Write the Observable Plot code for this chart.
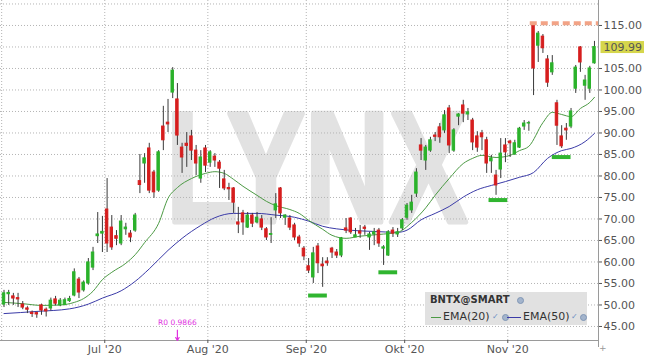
<!DOCTYPE html>
<html><head><meta charset="utf-8">
<script src="https://cdn.jsdelivr.net/npm/d3@7"></script>
<script src="https://cdn.jsdelivr.net/npm/@observablehq/plot@0.6"></script>
<style>
html,body{margin:0;padding:0;background:#fff;}
#wrap{position:relative;width:645px;height:358px;overflow:hidden;font-family:"DejaVu Sans",sans-serif;}
#legend{position:absolute;left:425px;top:292px;width:162px;height:33px;background:#e1e1e1;color:#333;}
#legend span{position:absolute;white-space:nowrap;}
.l1{left:5px;top:2px;font-size:10px;font-weight:bold;line-height:12px;}
.t{font-size:11px;line-height:13px;top:18px;}
.sw{height:1.5px;top:24.5px;width:10px;}
.ck{font-size:8px;color:#6b8fc4;top:20px;line-height:10px;}
.gear{width:5px;height:5px;border-radius:50%;background:#a3b4cc;border:0.5px solid #8096b5;}
#plus{position:absolute;left:599px;top:343px;font-size:9px;color:#999;}
</style></head>
<body><div id="wrap"><div id="chart"></div>
<div id="legend">
  <span class="l1">BNTX@SMART</span><span class="gear" style="left:92px;top:5px"></span>
  <span class="sw" style="left:6px;background:#4c9a44"></span>
  <span class="t" style="left:18px">EMA(20)</span>
  <span class="ck" style="left:67px">✓</span><span class="gear" style="left:77px;top:22px"></span>
  <span class="sw" style="left:82px;width:14px;background:#3b3ba8"></span>
  <span class="t" style="left:98px">EMA(50)</span>
  <span class="ck" style="left:146px">✓</span><span class="gear" style="left:155px;top:22px"></span>
</div>
<span id="plus">+</span>
</div>
<script>
// Daily candles, 1 Jun 2020 .. 27 Nov 2020 (trading days, index 0..126)
const open = [50.1,52.5,52.0,51.6,50.1,49.2,48.2,48.1,49.9,48.9,49.2,51.3,49.9,50.0,50.9,52.2,55.9,53.4,55.0,58.7,66.0,66.6,
72.2,68.0,66.0,64.3,67.6,66.6,67.3,78.8,82.9,86.4,80.8,76.6,91.5,92.4,99.4,97.8,86.6,87.5,89.2,85.9,79.4,86.4,
83.1,84.5,83.1,79.2,77.2,77.1,69.2,71.3,68.0,70.8,69.2,69.9,67.6,66.3,72.0,77.1,70.3,70.1,68.5,65.7,63.1,
59.0,56.4,63.6,59.4,60.1,63.1,62.2,61.5,67.8,70.1,65.7,67.1,68.0,65.7,66.4,67.3,63.1,61.5,67.3,66.4,67.8,
70.3,72.0,75.9,87.1,83.6,85.9,89.4,91.3,90.6,95.7,85.9,93.8,96.4,94.3,92.9,89.2,89.9,88.3,83.4,80.1,81.5,87.1,
88.0,85.0,86.6,91.5,92.2,115.0,110.3,112.4,107.1,104.1,96.9,89.2,91.0,91.5,100.3,109.9,101.0,100.3,106.2];
const high = [53.4,53.4,52.7,52.7,50.8,49.6,48.6,48.4,50.2,49.3,51.6,52.0,51.5,51.6,52.0,58.4,56.4,55.6,60.8,63.4,71.5,70.6,
79.4,70.8,67.3,70.8,69.0,67.3,71.3,85.0,85.2,87.6,81.3,85.9,96.2,97.8,105.2,101.5,87.6,90.1,90.6,87.1,85.9,87.1,
85.9,85.2,83.6,81.3,78.3,77.3,72.7,72.0,71.5,71.3,71.5,70.8,68.0,70.3,75.9,77.3,71.0,70.8,69.0,66.2,63.6,
60.8,63.4,64.3,61.0,61.0,63.4,62.9,65.7,70.1,70.3,67.8,68.5,68.5,66.9,67.8,67.8,63.8,67.3,68.0,67.8,70.1,
73.6,75.5,81.7,88.7,87.1,89.0,90.1,92.2,95.2,96.4,91.0,94.5,97.6,95.7,93.4,90.3,90.6,89.0,84.8,81.3,88.7,88.7,
88.3,88.3,91.3,92.9,92.7,115.2,113.6,112.9,108.0,108.0,97.6,91.7,92.2,95.7,105.7,110.1,103.4,105.5,111.3];
const low = [49.4,49.9,49.9,49.4,48.9,48.0,47.1,46.9,47.6,47.2,48.6,49.8,49.6,49.8,50.6,51.9,51.5,53.0,54.6,58.0,64.3,62.2,
62.2,62.7,63.8,63.8,66.2,64.5,66.9,75.9,78.3,75.9,74.8,76.2,85.9,90.1,98.0,87.1,80.6,82.0,83.6,80.1,78.3,80.8,
82.0,82.0,77.1,76.6,74.3,71.3,66.6,66.2,67.8,68.0,68.9,67.3,65.0,64.3,70.1,70.1,68.5,67.3,65.0,63.4,60.3,
57.3,55.0,57.3,54.1,59.0,60.8,60.8,61.0,66.6,66.4,65.7,65.5,66.2,62.7,63.8,63.4,59.2,61.3,65.7,65.7,67.3,
69.7,71.3,75.0,83.6,81.3,85.5,88.0,87.6,89.9,85.2,85.5,91.7,92.4,92.9,85.9,85.5,85.9,80.6,80.6,75.5,79.4,83.1,
84.3,84.8,86.4,90.6,90.4,98.7,106.4,108.5,100.6,103.4,87.1,86.4,88.3,91.0,99.2,104.1,97.6,99.2,106.0];
const close = [52.7,52.8,51.5,51.3,49.4,48.9,47.9,47.8,48.7,48.5,51.0,50.3,51.0,51.1,51.4,57.6,52.9,55.2,59.9,62.2,66.4,67.0,
64.3,63.4,65.4,69.4,68.0,65.7,70.8,77.9,84.1,76.6,76.2,85.5,88.3,92.0,104.5,89.4,84.3,87.0,85.9,82.9,84.3,82.4,
85.5,83.6,81.7,77.1,76.9,73.8,68.7,69.2,70.8,68.9,70.3,68.0,65.7,66.5,73.4,71.3,70.8,68.0,65.7,64.3,61.3,
58.0,62.0,59.7,59.0,59.7,62.2,61.5,65.5,67.3,66.9,66.2,66.6,67.7,66.4,66.9,64.3,63.4,66.9,66.6,66.9,69.7,
73.1,73.8,80.8,85.9,86.6,88.3,89.1,89.0,94.1,87.1,90.6,94.3,94.5,94.8,87.8,86.6,89.0,82.9,84.1,77.8,85.2,85.5,
87.6,87.6,91.0,92.2,92.3,105.0,113.1,109.7,101.7,106.2,91.7,86.9,90.6,95.0,105.2,106.4,102.2,105.0,109.99];

// Indicator readings (index of trading day, value)
const ema20Idx = [0,4,8,12,15,17,19,21,23,26,28,30,33,35,37,40,43,45,47,49,51,54,56,58,61,63,65,68,70,73,76,80,84,87,90,92,95,98,100,102,105,108,110,112,115,117,119,121,123,125,126];
const ema20 = [50.6,50.3,49.9,50.0,50.6,51.5,53.2,55.9,57.6,59.7,61.7,64.5,69.0,74.8,77.3,79.4,80.6,81.0,80.6,79.2,77.6,75.5,74.1,73.1,72.2,71.3,69.7,67.6,66.2,65.5,66.0,66.4,66.9,69.2,72.6,75.5,79.4,82.9,84.1,84.8,84.3,84.8,85.9,86.9,92.4,94.8,94.3,93.8,95.7,97.1,98.3];
const ema50Idx = [0,7,14,18,21,25,28,31,35,38,42,45,49,54,58,62,65,68,71,75,79,84,86,89,92,95,98,101,104,107,110,113,116,119,121,124,126];
const ema50 = [48.0,48.5,49.1,50.2,51.6,53.3,55.5,58.4,62.7,65.5,68.5,70.3,71.3,71.3,70.9,70.4,69.5,68.3,67.7,67.3,67.1,66.9,67.4,69.8,71.3,72.9,75.1,76.8,77.8,78.7,79.7,80.8,84.1,85.9,86.4,88.0,89.9];

// Support markers and high level
const supportStart = [65, 80, 103.5, 117];
const supportEnd = [69, 84, 107.5, 121];
const supportLevel = [52.2, 57.6, 74.4, 84.4];
const highLevel = [{start: 112.3, level: 115.5}];
const eventIdx = [37];
const eventLabel = ["R0 0.9866"];

// Axes
const monthTicks = [-0.5, 21.5, 43.5, 64.5, 85.5, 107.5];
const monthLabels = ["", "Jul '20", "Aug '20", "Sep '20", "Okt '20", "Nov '20"];
const yGridTicks = [45,50,55,60,65,70,75,80,85,90,95,100,105,110,115,120];
const yLabelTicks = [45,50,55,60,65,70,75,80,85,90,95,100,105,115];

const UP = "#2bb22b", DOWN = "#d61e1e";
const xDomain = [-0.747, 126.86];
const yDomain = [41.74, 120.81];

const bars = open.map((o, i) => ({i, o, h: high[i], l: low[i], c: close[i]}));
const e20 = ema20Idx.map((i, k) => ({i, v: ema20[k]}));
const e50 = ema50Idx.map((i, k) => ({i, v: ema50[k]}));
const supports = supportStart.map((s, k) => ({s, e: supportEnd[k], v: supportLevel[k]}));
const events = eventIdx.map((i, k) => ({i, label: eventLabel[k]}));
const labelOf = new Map(monthTicks.map((t, k) => [t, monthLabels[k]]));
const last = close[close.length - 1];

const plot = Plot.plot({
  width: 645, height: 358,
  marginLeft: 0, marginRight: 47, marginTop: 0, marginBottom: 18,
  style: {fontFamily: "DejaVu Sans, sans-serif", fontSize: "11px", background: "#fff", overflow: "visible"},
  x: {domain: xDomain},
  y: {domain: yDomain},
  marks: [
    Plot.text(["LYNX"], {frameAnchor: "middle", dy: 1, fontSize: 158, fontWeight: "bold",
      fontFamily: "Liberation Sans, Arial, sans-serif", fill: "#e2e2e2", stroke: "#e2e2e2", strokeWidth: 5}),
    Plot.gridY(yGridTicks, {stroke: "#b4b4b4", strokeOpacity: 1, strokeDasharray: "1,2"}),
    Plot.gridX(monthTicks, {stroke: "#b4b4b4", strokeOpacity: 1, strokeDasharray: "1,2"}),
    Plot.ruleY([yDomain[0]], {stroke: "#9a9a9a"}),
    Plot.ruleX([xDomain[1]], {stroke: "#9a9a9a", insetBottom: -7}),
    Plot.line(e50, {x: "i", y: "v", stroke: "#3b3ba8", strokeWidth: 1, curve: "monotone-x"}),
    Plot.line(e20, {x: "i", y: "v", stroke: "#4c9a44", strokeWidth: 1, curve: "monotone-x"}),
    Plot.ruleX(bars, {x: "i", y1: "l", y2: "h", stroke: "#3a3a3a", strokeWidth: 1}),
    Plot.rect(bars, {x1: d => d.i - 0.26, x2: d => d.i + 0.26, y1: "o", y2: "c",
      fill: d => d.c >= d.o ? UP : DOWN, stroke: d => d.c >= d.o ? UP : DOWN, strokeWidth: 1}),
    Plot.ruleY(supports, {y: "v", x1: "s", x2: "e", stroke: "#30b530", strokeWidth: 4}),
    Plot.ruleY(highLevel, {y: "level", x1: "start", x2: () => xDomain[1], stroke: "#f2a386", strokeWidth: 4, strokeDasharray: "7,4"}),
    Plot.arrow(events, {x1: "i", x2: "i", y1: () => yDomain[0] + 2.4, y2: () => yDomain[0], stroke: "#e030e0", strokeWidth: 1.2, headLength: 5}),
    Plot.text(events, {x: "i", frameAnchor: "bottom", dy: -16, text: "label", fill: "#e030e0", fontSize: 7.5}),
    Plot.axisY(yLabelTicks, {anchor: "right", tickFormat: d => d.toFixed(2), tickSize: 3, tickPadding: 2, color: "#555", label: null}),
    Plot.axisX(monthTicks.slice(1), {anchor: "bottom", tickFormat: d => labelOf.get(d), tickSize: 3, tickPadding: 2, color: "#555", label: null}),
    Plot.text([last], {y: d => d, frameAnchor: "right", dx: 5, textAnchor: "start", text: d => d.toFixed(2), fill: "#555", fontSize: 11})
  ]
});
document.getElementById("chart").appendChild(plot);

// helpers: find a text by content and its top-level group in the svg
const svgRect = plot.getBoundingClientRect();
function findText(str) { return [...plot.querySelectorAll("text")].find(t => t.textContent === str); }
function topGroup(el) { let g = el; while (g.parentNode && g.parentNode !== plot) g = g.parentNode; return g; }

// watermark: condense horizontally to the reference's letter span
const wm = findText("LYNX");
if (wm) {
  const g = topGroup(wm);
  const wrap = document.createElementNS("http://www.w3.org/2000/svg", "g");
  plot.insertBefore(wrap, g); wrap.appendChild(g);
  wrap.setAttribute("transform", "translate(316.5,0) scale(0.74,1) translate(-299,0)");
}
// last price box
const lp = findText(last.toFixed(2));
if (lp) {
  const r = lp.getBoundingClientRect();
  const g = topGroup(lp);
  const rect = document.createElementNS("http://www.w3.org/2000/svg", "rect");
  rect.setAttribute("x", r.left - svgRect.left - 3);
  rect.setAttribute("y", r.top - svgRect.top + 0.5);
  rect.setAttribute("width", r.width + 5);
  rect.setAttribute("height", r.height - 1);
  rect.setAttribute("fill", "#d6d64c");
  plot.insertBefore(rect, g);
}
</script>
</body></html>
